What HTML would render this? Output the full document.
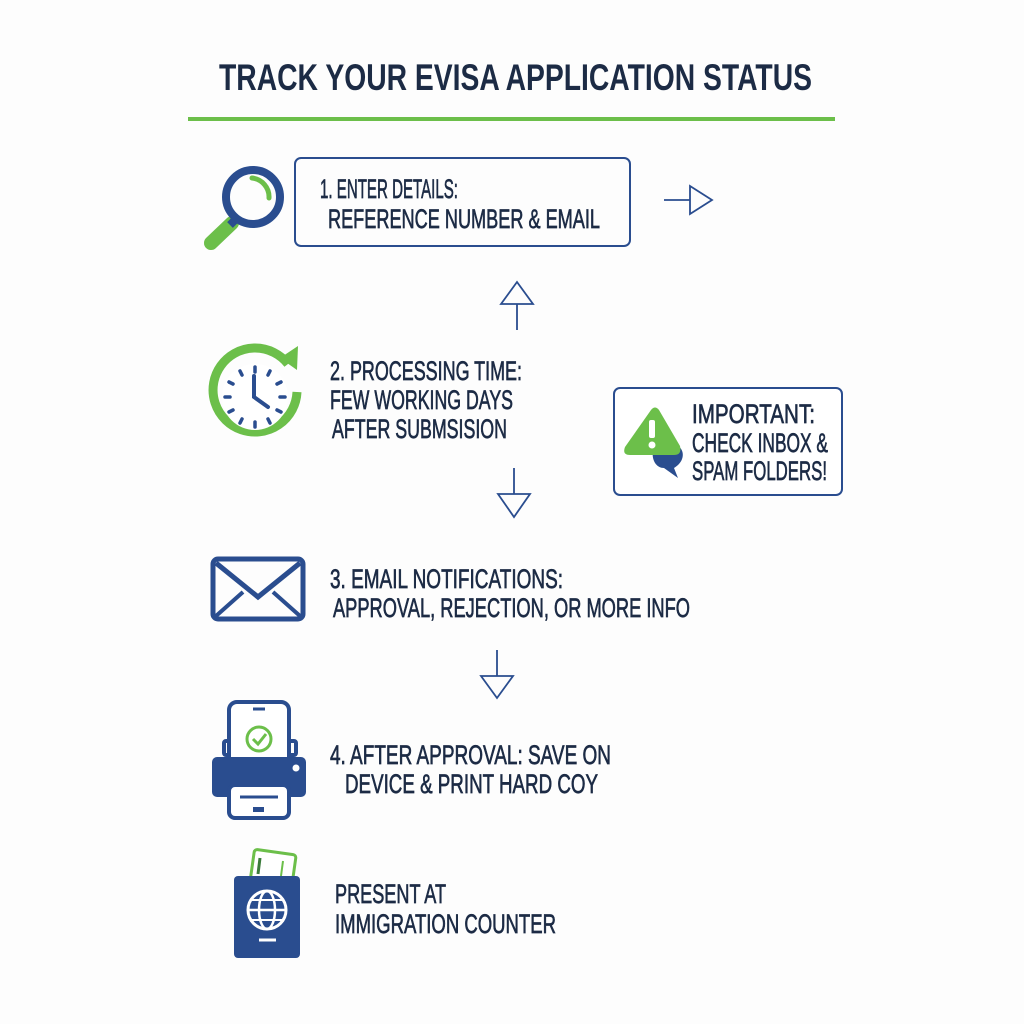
<!DOCTYPE html>
<html><head><meta charset="utf-8"><style>
html,body{margin:0;padding:0;background:#fff;width:1024px;height:1024px;overflow:hidden}
text{font-family:"Liberation Sans Narrow","Liberation Sans",sans-serif;fill:#1c2b45}
.t{font-size:27px;stroke:#1c2b45;stroke-width:0.7}
</style></head><body>
<svg width="1024" height="1024" viewBox="0 0 1024 1024" xmlns="http://www.w3.org/2000/svg">
<rect width="1024" height="1024" fill="#fdfdfd"/>
<text x="219" y="90" font-size="37" font-weight="bold" textLength="593" lengthAdjust="spacingAndGlyphs">TRACK YOUR EVISA APPLICATION STATUS</text>
<rect x="188" y="117" width="647" height="4" fill="#6cbf4a"/>

<line x1="211" y1="243" x2="232" y2="223" stroke="#6cbf4a" stroke-width="14" stroke-linecap="round"/>
<line x1="230" y1="225" x2="238" y2="217" stroke="#2a4d8f" stroke-width="8"/>
<circle cx="253" cy="197" r="27" fill="none" stroke="#2a4d8f" stroke-width="8"/>
<path d="M252 178 A19 19 0 0 1 269 198" fill="none" stroke="#6cbf4a" stroke-width="5" stroke-linecap="round"/>

<rect x="295" y="158" width="335" height="88" rx="6" fill="none" stroke="#2a4d8f" stroke-width="2"/>
<text class="t" x="320" y="198" textLength="138" lengthAdjust="spacingAndGlyphs">1. ENTER DETAILS:</text>
<text class="t" x="328" y="228" textLength="272" lengthAdjust="spacingAndGlyphs">REFERENCE NUMBER &amp; EMAIL</text>

<g fill="none" stroke="#2a4d8f" stroke-width="1.8">
<line x1="664" y1="200" x2="690" y2="200"/><path d="M690 186 L712 200 L690 214 Z"/>
<line x1="517" y1="330" x2="517" y2="304"/><path d="M501 304 L517 282 L533 304 Z"/>
<line x1="514" y1="468" x2="514" y2="494"/><path d="M498 494 L514 517 L530 494 Z"/>
<line x1="497" y1="650" x2="497" y2="676"/><path d="M481 676 L497 698 L513 676 Z"/>
</g>

<path d="M288 364 A42 42 0 1 0 297 392" fill="none" stroke="#6cbf4a" stroke-width="9"/>
<path d="M280 358 L298 346 L297 370 Z" fill="#6cbf4a"/>
<circle cx="255" cy="397" r="33" fill="#fff"/>
<g stroke="#2a4d8f" stroke-width="3.5" stroke-linecap="round">
<line x1="255" y1="367" x2="255" y2="372"/><line x1="255" y1="422" x2="255" y2="427"/>
<line x1="225" y1="397" x2="230" y2="397"/><line x1="280" y1="397" x2="285" y2="397"/>
<line x1="240" y1="371" x2="242" y2="375"/><line x1="270" y1="371" x2="268" y2="375"/>
<line x1="229" y1="382" x2="233" y2="384"/><line x1="281" y1="382" x2="277" y2="384"/>
<line x1="229" y1="412" x2="233" y2="410"/><line x1="281" y1="412" x2="277" y2="410"/>
<line x1="240" y1="423" x2="242" y2="419"/><line x1="270" y1="423" x2="268" y2="419"/>
<polyline points="254,376 254,397 268,407" fill="none" stroke-width="4"/>
</g>
<text class="t" x="330" y="380" textLength="192" lengthAdjust="spacingAndGlyphs">2. PROCESSING TIME:</text>
<text class="t" x="330" y="409" textLength="183" lengthAdjust="spacingAndGlyphs">FEW WORKING DAYS</text>
<text class="t" x="332" y="438" textLength="175" lengthAdjust="spacingAndGlyphs">AFTER SUBMSISION</text>

<rect x="614" y="388" width="228" height="107" rx="6" fill="#fff" stroke="#2a4d8f" stroke-width="2"/>
<path d="M664 442 C686 442 688 460 674 468 L678 478 L664 468 C650 468 648 442 664 442 Z" fill="#2a4d8f"/>
<path d="M651 410 Q655 405 659 410 L680 446 Q682 455 674 455 L630 455 Q622 455 625 447 Z" fill="#6cbf4a"/>
<rect x="649" y="420" width="6" height="18" rx="2" fill="#fff"/><circle cx="652" cy="445" r="3.5" fill="#fff"/>
<text class="t" x="692" y="423" font-size="25" textLength="123" lengthAdjust="spacingAndGlyphs">IMPORTANT:</text>
<text class="t" x="692" y="452" font-size="25" textLength="136" lengthAdjust="spacingAndGlyphs">CHECK INBOX &amp;</text>
<text class="t" x="692" y="480" font-size="25" textLength="135" lengthAdjust="spacingAndGlyphs">SPAM FOLDERS!</text>

<rect x="213" y="559" width="90" height="60" rx="5" fill="none" stroke="#2a4d8f" stroke-width="5"/>
<polyline points="216,563 258,597 300,563" fill="none" stroke="#2a4d8f" stroke-width="5"/>
<line x1="216" y1="616" x2="243" y2="592" stroke="#2a4d8f" stroke-width="4"/>
<line x1="300" y1="616" x2="273" y2="592" stroke="#2a4d8f" stroke-width="4"/>
<text class="t" x="330" y="588" textLength="233" lengthAdjust="spacingAndGlyphs">3. EMAIL NOTIFICATIONS:</text>
<text class="t" x="333" y="617" textLength="357" lengthAdjust="spacingAndGlyphs">APPROVAL, REJECTION, OR MORE INFO</text>

<rect x="224" y="741" width="72" height="14" rx="2" fill="none" stroke="#2a4d8f" stroke-width="4"/>
<rect x="229" y="702" width="60" height="116" rx="8" fill="#fff" stroke="#2a4d8f" stroke-width="4"/>
<line x1="253" y1="709" x2="265" y2="709" stroke="#2a4d8f" stroke-width="3"/>
<circle cx="259" cy="739" r="12" fill="none" stroke="#6cbf4a" stroke-width="3"/>
<polyline points="253,739 258,744 266,734" fill="none" stroke="#6cbf4a" stroke-width="3"/>
<rect x="212" y="757" width="94" height="40" rx="5" fill="#2a4d8f"/>
<circle cx="296" cy="768" r="3.5" fill="#fff"/>
<rect x="229" y="785" width="60" height="33" rx="6" fill="#fff" stroke="#2a4d8f" stroke-width="4"/>
<line x1="240" y1="797" x2="278" y2="797" stroke="#2a4d8f" stroke-width="3"/>
<rect x="253" y="807" width="11" height="5" fill="#2a4d8f"/>
<text class="t" x="330" y="764" textLength="281" lengthAdjust="spacingAndGlyphs">4. AFTER APPROVAL: SAVE ON</text>
<text class="t" x="345" y="793" textLength="253" lengthAdjust="spacingAndGlyphs">DEVICE &amp; PRINT HARD COY</text>

<rect x="252" y="852" width="42" height="34" rx="3" transform="rotate(8 273 869)" fill="#fff" stroke="#6cbf4a" stroke-width="3"/>
<line x1="260" y1="858" x2="258" y2="874" stroke="#3a7a3a" stroke-width="3"/>
<line x1="283" y1="861" x2="281" y2="876" stroke="#6cbf4a" stroke-width="2"/>
<rect x="234" y="876" width="66" height="82" rx="4" fill="#2a4d8f"/>
<circle cx="267" cy="910" r="19" fill="none" stroke="#fff" stroke-width="3"/>
<ellipse cx="267" cy="910" rx="8" ry="19" fill="none" stroke="#fff" stroke-width="2.5"/>
<line x1="248" y1="910" x2="286" y2="910" stroke="#fff" stroke-width="2.5"/>
<line x1="251" y1="900" x2="283" y2="900" stroke="#fff" stroke-width="2"/>
<line x1="251" y1="920" x2="283" y2="920" stroke="#fff" stroke-width="2"/>
<line x1="259" y1="940" x2="276" y2="940" stroke="#fff" stroke-width="3"/>
<text class="t" x="335" y="903" textLength="111" lengthAdjust="spacingAndGlyphs">PRESENT AT</text>
<text class="t" x="335" y="933" textLength="221" lengthAdjust="spacingAndGlyphs">IMMIGRATION COUNTER</text>
</svg>
</body></html>
